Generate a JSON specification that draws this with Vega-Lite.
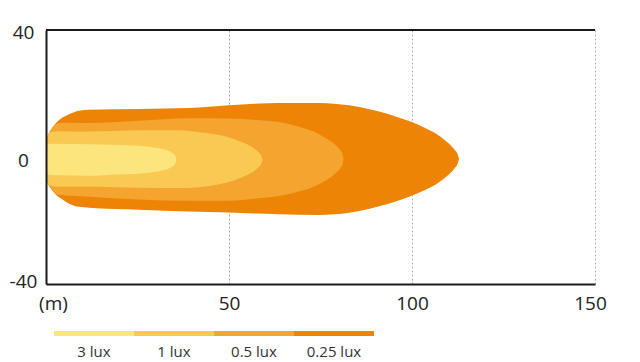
{
  "$schema": "https://vega.github.io/schema/vega-lite/v6.json",
  "background": "white",
  "padding": {"left": 9, "top": 23, "right": 0, "bottom": 0},
  "spacing": 18,
  "config": {
    "view": {"stroke": null},
    "font": "Open Sans",
    "axis": {"labelFont": "Open Sans"}
  },
  "datasets": {
    "beam": [
      {"lux": "0.25 lux", "x": 0, "top": 5.0, "bottom": -6.5},
      {"lux": "0.25 lux", "x": 0.55, "top": 6.9, "bottom": -8.4},
      {"lux": "0.25 lux", "x": 1.37, "top": 8.6, "bottom": -10.0},
      {"lux": "0.25 lux", "x": 2.46, "top": 10.3, "bottom": -11.6},
      {"lux": "0.25 lux", "x": 4.1, "top": 12.1, "bottom": -13.1},
      {"lux": "0.25 lux", "x": 6.28, "top": 13.5, "bottom": -14.7},
      {"lux": "0.25 lux", "x": 9.02, "top": 14.6, "bottom": -15.7},
      {"lux": "0.25 lux", "x": 11.75, "top": 14.9, "bottom": -16.0},
      {"lux": "0.25 lux", "x": 25.4, "top": 15.1, "bottom": -16.6},
      {"lux": "0.25 lux", "x": 39.1, "top": 15.4, "bottom": -17.2},
      {"lux": "0.25 lux", "x": 50.0, "top": 16.3, "bottom": -17.5},
      {"lux": "0.25 lux", "x": 57.0, "top": 16.8, "bottom": -17.8},
      {"lux": "0.25 lux", "x": 63.7, "top": 17.0, "bottom": -18.0},
      {"lux": "0.25 lux", "x": 74.6, "top": 17.0, "bottom": -18.27},
      {"lux": "0.25 lux", "x": 78.7, "top": 16.8, "bottom": -18.05},
      {"lux": "0.25 lux", "x": 82.8, "top": 16.3, "bottom": -17.54},
      {"lux": "0.25 lux", "x": 86.9, "top": 15.4, "bottom": -16.69},
      {"lux": "0.25 lux", "x": 91.0, "top": 14.3, "bottom": -15.53},
      {"lux": "0.25 lux", "x": 95.1, "top": 12.9, "bottom": -14.17},
      {"lux": "0.25 lux", "x": 99.2, "top": 11.3, "bottom": -12.54},
      {"lux": "0.25 lux", "x": 103.3, "top": 9.3, "bottom": -10.55},
      {"lux": "0.25 lux", "x": 106.6, "top": 7.3, "bottom": -8.6},
      {"lux": "0.25 lux", "x": 109.0, "top": 5.3, "bottom": -6.55},
      {"lux": "0.25 lux", "x": 110.7, "top": 3.56, "bottom": -4.82},
      {"lux": "0.25 lux", "x": 111.75, "top": 2.14, "bottom": -3.4},
      {"lux": "0.25 lux", "x": 112.43, "top": 1.04, "bottom": -2.3},
      {"lux": "0.25 lux", "x": 112.85, "top": -0.63, "bottom": -0.63},

      {"lux": "0.5 lux", "x": 0, "top": 5.0, "bottom": -6.5},
      {"lux": "0.5 lux", "x": 0.55, "top": 6.9, "bottom": -8.4},
      {"lux": "0.5 lux", "x": 1.37, "top": 8.6, "bottom": -10.0},
      {"lux": "0.5 lux", "x": 2.46, "top": 10.2, "bottom": -11.4},
      {"lux": "0.5 lux", "x": 3.55, "top": 10.7, "bottom": -11.9},
      {"lux": "0.5 lux", "x": 6.28, "top": 10.8, "bottom": -12.2},
      {"lux": "0.5 lux", "x": 11.75, "top": 10.7, "bottom": -12.5},
      {"lux": "0.5 lux", "x": 25.4, "top": 11.4, "bottom": -13.4},
      {"lux": "0.5 lux", "x": 39.1, "top": 12.2, "bottom": -13.8},
      {"lux": "0.5 lux", "x": 50.0, "top": 12.1, "bottom": -13.8},
      {"lux": "0.5 lux", "x": 58.2, "top": 11.6, "bottom": -13.0},
      {"lux": "0.5 lux", "x": 63.7, "top": 11.0, "bottom": -12.3},
      {"lux": "0.5 lux", "x": 69.1, "top": 9.55, "bottom": -10.9},
      {"lux": "0.5 lux", "x": 73.1, "top": 8.0, "bottom": -9.35},
      {"lux": "0.5 lux", "x": 75.8, "top": 6.4, "bottom": -7.8},
      {"lux": "0.5 lux", "x": 78.0, "top": 4.8, "bottom": -6.2},
      {"lux": "0.5 lux", "x": 79.6, "top": 3.25, "bottom": -4.6},
      {"lux": "0.5 lux", "x": 80.6, "top": 1.8, "bottom": -3.2},
      {"lux": "0.5 lux", "x": 81.07, "top": 0.7, "bottom": -2.1},
      {"lux": "0.5 lux", "x": 81.28, "top": -0.69, "bottom": -0.69},

      {"lux": "1 lux", "x": 0, "top": 5.0, "bottom": -6.5},
      {"lux": "1 lux", "x": 0.55, "top": 6.9, "bottom": -8.3},
      {"lux": "1 lux", "x": 1.09, "top": 7.8, "bottom": -9.0},
      {"lux": "1 lux", "x": 3.55, "top": 8.1, "bottom": -9.4},
      {"lux": "1 lux", "x": 11.75, "top": 8.0, "bottom": -9.4},
      {"lux": "1 lux", "x": 25.4, "top": 8.4, "bottom": -9.7},
      {"lux": "1 lux", "x": 36.3, "top": 8.4, "bottom": -9.8},
      {"lux": "1 lux", "x": 41.9, "top": 7.8, "bottom": -9.5},
      {"lux": "1 lux", "x": 47.4, "top": 6.9, "bottom": -8.6},
      {"lux": "1 lux", "x": 51.5, "top": 5.6, "bottom": -7.3},
      {"lux": "1 lux", "x": 55.05, "top": 3.9, "bottom": -5.6},
      {"lux": "1 lux", "x": 56.97, "top": 2.6, "bottom": -4.3},
      {"lux": "1 lux", "x": 58.33, "top": 1.2, "bottom": -2.9},
      {"lux": "1 lux", "x": 58.88, "top": 0.25, "bottom": -1.95},
      {"lux": "1 lux", "x": 59.15, "top": -0.85, "bottom": -0.85},

      {"lux": "3 lux", "x": 0, "top": 3.2, "bottom": -4.5},
      {"lux": "3 lux", "x": 0.41, "top": 3.9, "bottom": -5.3},
      {"lux": "3 lux", "x": 1.37, "top": 4.2, "bottom": -5.7},
      {"lux": "3 lux", "x": 11.75, "top": 4.0, "bottom": -5.9},
      {"lux": "3 lux", "x": 19.95, "top": 3.8, "bottom": -5.5},
      {"lux": "3 lux", "x": 25.41, "top": 3.56, "bottom": -5.26},
      {"lux": "3 lux", "x": 28.14, "top": 3.24, "bottom": -4.94},
      {"lux": "3 lux", "x": 30.87, "top": 2.77, "bottom": -4.47},
      {"lux": "3 lux", "x": 33.06, "top": 2.14, "bottom": -3.84},
      {"lux": "3 lux", "x": 34.43, "top": 1.35, "bottom": -3.05},
      {"lux": "3 lux", "x": 35.25, "top": 0.57, "bottom": -2.27},
      {"lux": "3 lux", "x": 35.66, "top": -0.85, "bottom": -0.85}
    ],
    "levels": [
      {"lux": "3 lux"},
      {"lux": "1 lux"},
      {"lux": "0.5 lux"},
      {"lux": "0.25 lux"}
    ]
  },
  "resolve": {"scale": {"x": "independent", "y": "independent", "color": "shared"}},
  "vconcat": [
    {
      "width": 549,
      "height": 254,
      "data": {"name": "beam"},
      "layer": [
        {
          "transform": [{"filter": "datum.lux === '0.25 lux'"}],
          "mark": {"type": "area", "interpolate": "monotone"},
          "encoding": {
            "x": {
              "field": "x", "type": "quantitative",
              "scale": {"domain": [0, 150], "nice": false, "zero": false},
              "axis": {
                "values": [0, 50, 100, 150],
                "grid": true, "gridDash": [2, 2], "gridColor": "#ababab", "gridWidth": 1,
                "ticks": false,
                "domainColor": "#1a1a1a", "domainWidth": 2,
                "labelFontSize": 19, "labelColor": "#222222", "labelPadding": 10,
                "labelFlush": false,
                "labelExpr": "datum.value == 0 ? '(m)' : datum.label",
                "labelOffset": {"condition": [{"test": "datum.value == 0", "value": 7}, {"test": "datum.value == 150", "value": -5}], "value": 0},
                "title": null
              }
            },
            "y": {
              "field": "top", "type": "quantitative",
              "scale": {"domain": [-40, 40], "nice": false},
              "axis": {
                "values": [-40, 0, 40],
                "grid": false, "ticks": false,
                "domainColor": "#1a1a1a", "domainWidth": 2,
                "labelFontSize": 19, "labelColor": "#222222",
                "labelAlign": "center", "labelPadding": 23,
                "labelExpr": "datum.value == -40 ? '-40' : datum.label",
                "labelOffset": {"condition": [{"test": "datum.value == 40", "value": 2}, {"test": "datum.value == 0", "value": 3}, {"test": "datum.value == -40", "value": -3}], "value": 0},
                "title": null, "zindex": 1
              }
            },
            "y2": {"field": "bottom"},
            "color": {
              "field": "lux", "type": "nominal",
              "scale": {"domain": ["3 lux", "1 lux", "0.5 lux", "0.25 lux"], "range": ["#fce57c", "#f9c952", "#f3a52f", "#ee8405"]},
              "legend": null
            }
          }
        },
        {
          "transform": [{"filter": "datum.lux === '0.5 lux'"}],
          "mark": {"type": "area", "interpolate": "monotone"},
          "encoding": {
            "x": {"field": "x", "type": "quantitative"},
            "y": {"field": "top", "type": "quantitative"},
            "y2": {"field": "bottom"},
            "color": {"field": "lux", "type": "nominal", "legend": null}
          }
        },
        {
          "transform": [{"filter": "datum.lux === '1 lux'"}],
          "mark": {"type": "area", "interpolate": "monotone"},
          "encoding": {
            "x": {"field": "x", "type": "quantitative"},
            "y": {"field": "top", "type": "quantitative"},
            "y2": {"field": "bottom"},
            "color": {"field": "lux", "type": "nominal", "legend": null}
          }
        },
        {
          "transform": [{"filter": "datum.lux === '3 lux'"}],
          "mark": {"type": "area", "interpolate": "monotone"},
          "encoding": {
            "x": {"field": "x", "type": "quantitative"},
            "y": {"field": "top", "type": "quantitative"},
            "y2": {"field": "bottom"},
            "color": {"field": "lux", "type": "nominal", "legend": null}
          }
        },
        {
          "data": {"values": [{}]},
          "mark": {"type": "rule", "color": "#1a1a1a", "strokeWidth": 2},
          "encoding": {"y": {"datum": 40}}
        }
      ]
    },
    {
      "width": 336,
      "height": 5,
      "data": {"name": "levels"},
      "mark": {"type": "bar"},
      "encoding": {
        "x": {
          "field": "lux", "type": "nominal",
          "sort": ["3 lux", "1 lux", "0.5 lux", "0.25 lux"],
          "scale": {"paddingInner": 0, "paddingOuter": 0.1},
          "axis": {
            "ticks": false, "domain": false,
            "labelFontSize": 15, "labelColor": "#333333",
            "labelPadding": 8, "labelAngle": 0, "title": null
          }
        },
        "color": {"field": "lux", "type": "nominal", "legend": null}
      }
    }
  ]
}
